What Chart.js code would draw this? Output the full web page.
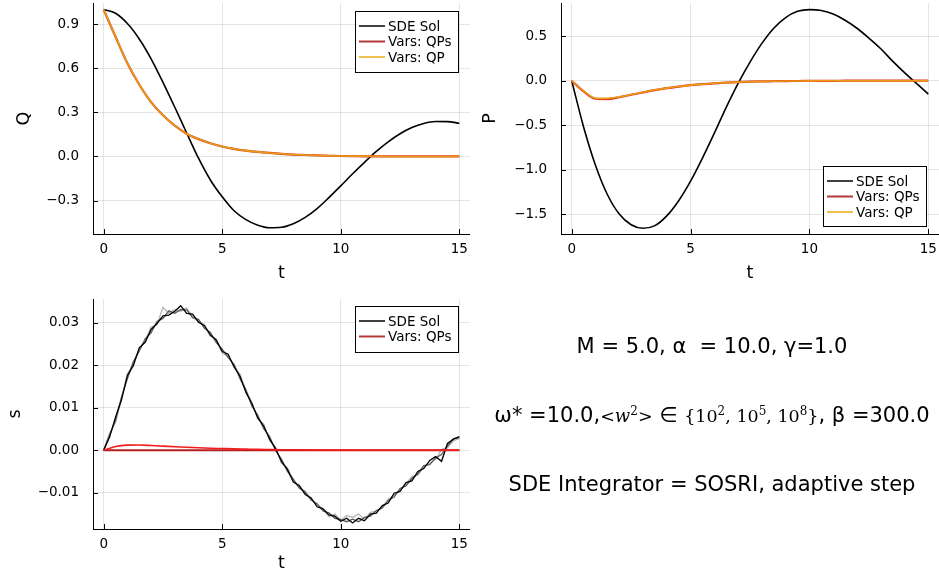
<!DOCTYPE html>
<html>
<head>
<meta charset="utf-8">
<script src="https://cdn.jsdelivr.net/npm/chart.js@4.4.1/dist/chart.umd.min.js"></script>
<style>
  body { margin: 0; background: #fff; width: 939px; height: 580px; overflow: hidden; position: relative; }
  canvas { position: absolute; }
  .note { position: absolute; left: 412px; width: 600px; text-align: center; font: 21px "DejaVu Sans"; line-height: 24px; color: #000; white-space: pre; }
  .m { font-family: "DejaVu Serif"; font-size: 17.5px; }
  .m i { font-size: 18px; }
  .m sup { font-size: 12px; vertical-align: 7px; }
</style>
</head>
<body>
<canvas id="cQ" width="470" height="290" style="left:0;top:0"></canvas>
<canvas id="cP" width="469" height="290" style="left:470px;top:0"></canvas>
<canvas id="cS" width="470" height="290" style="left:0;top:290px"></canvas>
<div class="note" style="top:334px">M = 5.0, α  = 10.0, γ=1.0</div>
<div class="note" style="top:399px">ω* =10.0,<span class="m">&lt;<i>w</i><sup>2</sup>&gt;</span> ∈ <span class="m">{10<sup>2</sup>, 10<sup>5</sup>, 10<sup>8</sup>}</span>, β =300.0</div>
<div class="note" style="top:472px">SDE Integrator = SOSRI, adaptive step</div>
<script>
// time grid and tick labels
const tHalf = [0, 0.5, 1, 1.5, 2, 2.5, 3, 3.5, 4, 4.5, 5, 5.5, 6, 6.5, 7, 7.5, 8, 8.5, 9, 9.5,
  10, 10.5, 11, 11.5, 12, 12.5, 13, 13.5, 14, 14.5, 15];
const tQuarter = [0, 0.25, 0.5, 0.75, 1, 1.25, 1.5, 1.75, 2, 2.25,
  2.5, 2.75, 3, 3.25, 3.5, 3.75, 4, 4.25, 4.5, 4.75,
  5, 5.25, 5.5, 5.75, 6, 6.25, 6.5, 6.75, 7, 7.25,
  7.5, 7.75, 8, 8.25, 8.5, 8.75, 9, 9.25, 9.5, 9.75,
  10, 10.25, 10.5, 10.75, 11, 11.25, 11.5, 11.75, 12, 12.25,
  12.5, 12.75, 13, 13.25, 13.5, 13.75, 14, 14.25, 14.5, 14.75,
  15];
const tTicks = [0, 5, 10, 15];
const qTicks = [-0.3, 0, 0.3, 0.6, 0.9];
const pTicks = [-1.5, -1.0, -0.5, 0, 0.5];
const sTicks = [-0.01, 0, 0.01, 0.02, 0.03];

// Q panel
const qSde = [1.0, 0.975, 0.905, 0.80, 0.665, 0.505, 0.335, 0.16, -0.012, -0.16,
  -0.275, -0.37, -0.43, -0.468, -0.485, -0.482, -0.458, -0.415, -0.355, -0.28,
  -0.20, -0.118, -0.04, 0.035, 0.10, 0.155, 0.197, 0.225, 0.238, 0.237,
  0.226];
const qVars = [1.0, 0.815, 0.635, 0.49, 0.37, 0.28, 0.21, 0.155, 0.118, 0.09,
  0.068, 0.052, 0.04, 0.031, 0.024, 0.018, 0.013, 0.01, 0.007, 0.005,
  0.003, 0.002, 0.001, 0.001, 0, 0, 0, 0, 0, 0,
  0];

// P panel
const pSde = [0, -0.52, -0.95, -1.28, -1.50, -1.62, -1.66, -1.63, -1.52, -1.35,
  -1.13, -0.87, -0.59, -0.30, -0.03, 0.21, 0.42, 0.59, 0.71, 0.78,
  0.80, 0.79, 0.75, 0.68, 0.59, 0.48, 0.36, 0.22, 0.09, -0.03,
  -0.15];
const pQPs = [0, -0.12, -0.203, -0.207, -0.186, -0.158, -0.132, -0.106, -0.084, -0.066,
  -0.05, -0.038, -0.029, -0.022, -0.016, -0.011, -0.008, -0.006, -0.004, -0.003,
  -0.002, -0.001, -0.001, 0, 0, 0, 0, 0, 0, 0,
  0];
const pQP = [0, -0.115, -0.197, -0.199, -0.182, -0.155, -0.13, -0.105, -0.083, -0.065,
  -0.05, -0.038, -0.029, -0.022, -0.016, -0.011, -0.008, -0.006, -0.004, -0.003,
  -0.002, -0.001, -0.001, 0, 0, 0, 0, 0, 0, 0,
  0];

// s panel: three SDE runs (one per <w^2>) and the variational curves
const sSde1 = [0, 0.0031, 0.0078, 0.0118, 0.0176, 0.0199, 0.0241, 0.0254, 0.0284, 0.0298,
  0.0316, 0.0318, 0.0327, 0.0340, 0.0322, 0.0320, 0.0301, 0.0293, 0.0271, 0.0259,
  0.0232, 0.0226, 0.0196, 0.0174, 0.0136, 0.0110, 0.0076, 0.0057, 0.0026, 0.0004,
  -0.0027, -0.0045, -0.0075, -0.0083, -0.0104, -0.0112, -0.0133, -0.0138, -0.0152, -0.0155,
  -0.0167, -0.0160, -0.0171, -0.0160, -0.0166, -0.0150, -0.0148, -0.0130, -0.0124, -0.0101,
  -0.0097, -0.0076, -0.0072, -0.0050, -0.0043, -0.0024, -0.0015, -0.0026, 0.0016, 0.0026,
  0.0032];
const sSde2 = [0, 0.0036, 0.0070, 0.0125, 0.0168, 0.0208, 0.0233, 0.0262, 0.0276, 0.0303,
  0.0310, 0.0328, 0.0322, 0.0331, 0.0330, 0.0312, 0.0308, 0.0287, 0.0277, 0.0253,
  0.0238, 0.0218, 0.0202, 0.0168, 0.0142, 0.0104, 0.0082, 0.0051, 0.0032, -0.0001,
  -0.0021, -0.0050, -0.0068, -0.0089, -0.0099, -0.0117, -0.0126, -0.0143, -0.0147, -0.0160,
  -0.0163, -0.0168, -0.0162, -0.0168, -0.0158, -0.0155, -0.0142, -0.0136, -0.0118, -0.0110,
  -0.0090, -0.0084, -0.0066, -0.0056, -0.0036, -0.0034, -0.0018, -0.0010, 0.0010, 0.0027,
  0.0030];
const sSde3 = [0, 0.0040, 0.0066, 0.0121, 0.0180, 0.0202, 0.0238, 0.0258, 0.0290, 0.0295,
  0.0336, 0.0322, 0.0331, 0.0326, 0.0335, 0.0314, 0.0303, 0.0296, 0.0268, 0.0262,
  0.0228, 0.0221, 0.0198, 0.0179, 0.0140, 0.0113, 0.0073, 0.0062, 0.0022, 0.0008,
  -0.0031, -0.0041, -0.0072, -0.0089, -0.0096, -0.0116, -0.0128, -0.0137, -0.0156, -0.0150,
  -0.0164, -0.0154, -0.0158, -0.0150, -0.0162, -0.0146, -0.0143, -0.0135, -0.0115, -0.0106,
  -0.0093, -0.0079, -0.0062, -0.0058, -0.0040, -0.0030, -0.0022, 0.0002, 0.0006, 0.0022,
  0.0028];
const sBump = [0, 0.0009, 0.0012, 0.00122, 0.00112, 0.00098, 0.00083, 0.0007, 0.00058, 0.00048,
  0.0004, 0.00032, 0.00026, 0.0002, 0.00016, 0.00012, 0.0001, 0.00008, 0.00006, 0.00004,
  0.00003, 0.00002, 0.00001, 0, 0, 0, 0, 0, 0, 0,
  0];
const sFlat = [0, 0, 0, 0, 0, 0, 0, 0, 0, 0, 0, 0, 0, 0, 0, 0, 0, 0, 0, 0,
  0, 0, 0, 0, 0, 0, 0, 0, 0, 0, 0];

Chart.defaults.font.family = '"DejaVu Sans", sans-serif';
Chart.defaults.color = '#000';

const red = '#b33a3a', gold = '#f0c050';

// legend in a box, inset from a corner of the plot area
const boxLegend = {
  id: 'boxLegend',
  afterDraw(chart, args, o) {
    const ctx = chart.ctx, a = chart.chartArea;
    const x = Math.round(a.right - o.right - o.w);
    const y = Math.round(o.bottom != null ? a.bottom - o.bottom - o.h : a.top + o.top);
    ctx.save();
    ctx.fillStyle = '#fff';
    ctx.fillRect(x, y, o.w, o.h);
    ctx.strokeStyle = '#000';
    ctx.lineWidth = 1;
    ctx.strokeRect(x + 0.5, y + 0.5, o.w, o.h);
    ctx.font = '13.5px "DejaVu Sans"';
    ctx.textBaseline = 'middle';
    o.items.forEach((it, i) => {
      const yy = y + 15 + i * 15.5;
      ctx.strokeStyle = it.color;
      ctx.lineWidth = it.lw;
      ctx.beginPath();
      ctx.moveTo(x + 4, yy);
      ctx.lineTo(x + 30, yy);
      ctx.stroke();
      ctx.fillStyle = '#000';
      ctx.fillText(it.label, x + 33, yy + 1);
    });
    ctx.restore();
  }
};

// short tick marks pointing into the plot
const inTicks = {
  id: 'inTicks',
  beforeDatasetsDraw(chart) {
    const ctx = chart.ctx, a = chart.chartArea;
    const sx = chart.scales.x, sy = chart.scales.y;
    ctx.save();
    ctx.strokeStyle = '#000';
    ctx.lineWidth = 1;
    ctx.beginPath();
    sx.ticks.forEach(t => {
      const px = Math.round(sx.getPixelForValue(t.value)) + 0.5;
      ctx.moveTo(px, a.bottom);
      ctx.lineTo(px, a.bottom - 5);
    });
    sy.ticks.forEach(t => {
      const py = Math.round(sy.getPixelForValue(t.value)) + 0.5;
      ctx.moveTo(a.left, py);
      ctx.lineTo(a.left + 5, py);
    });
    ctx.stroke();
    ctx.restore();
  }
};

function line(xs, ys, color, width, smooth) {
  return {
    data: xs.map((x, i) => ({ x: x, y: ys[i] })),
    borderColor: color,
    borderWidth: width,
    pointRadius: 0,
    fill: false,
    tension: 0,
    cubicInterpolationMode: smooth ? 'monotone' : 'default'
  };
}

function fmt(dec) {
  return v => (v < -1e-9 ? '\u2212' : '') + Math.abs(v).toFixed(dec);
}

// no extra room for tick labels hanging over the plot edges
function noPad(s) {
  s.paddingTop = 0;
  s.paddingBottom = 0;
  s.paddingLeft = 0;
  s.paddingRight = 0;
}

// first dataset in the list is drawn on top
function makeChart(id, sets, y, lay, legend) {
  return new Chart(document.getElementById(id), {
    type: 'line',
    data: { datasets: sets },
    plugins: [inTicks, boxLegend],
    options: {
      responsive: false,
      animation: false,
      layout: { autoPadding: false, padding: { top: lay.top, left: 0, right: 0, bottom: 0 } },
      plugins: { legend: { display: false }, tooltip: { enabled: false }, boxLegend: legend },
      scales: {
        x: {
          type: 'linear', min: -0.45, max: 15.45,
          afterBuildTicks: s => { s.ticks = tTicks.map(v => ({ value: v })); },
          afterFit: s => { s.height = lay.xh; noPad(s); },
          grid: { color: 'rgba(0,0,0,0.1)', drawTicks: false },
          border: { display: true, color: '#000', width: 1 },
          ticks: { padding: 7, font: { size: 13.5 }, autoSkip: false, maxRotation: 0, callback: v => String(v) },
          title: { display: true, text: 't', font: { size: 17.5 }, padding: { top: 0, bottom: lay.tb } }
        },
        y: {
          type: 'linear', min: y.min, max: y.max,
          afterBuildTicks: s => { s.ticks = y.ticks.map(v => ({ value: v })); },
          afterFit: s => { s.width = lay.yw; noPad(s); },
          grid: { color: 'rgba(0,0,0,0.1)', drawTicks: false },
          border: { display: true, color: '#000', width: 1 },
          ticks: { padding: 14, font: { size: 13.5 }, autoSkip: false, callback: fmt(y.dec) },
          title: { display: true, text: y.title, font: { size: 17.5 }, padding: { top: lay.yt, bottom: 0 } }
        }
      }
    }
  });
}

makeChart('cQ', [
  line(tHalf, qVars, '#eb9a16', 1.6, true),
  line(tHalf, qVars, '#d23a22', 2.2, true),
  line(tHalf, qSde, '#000', 1.6, true)
], { min: -0.528, max: 1.045, ticks: qTicks, dec: 1, title: 'Q' },
{ top: 3, xh: 56, yw: 93, tb: 6, yt: 13.5 },
{ right: 12, top: 8, w: 103, h: 61, items: [
  { label: 'SDE Sol', color: '#000', lw: 1.5 },
  { label: 'Vars: QPs', color: red, lw: 2 },
  { label: 'Vars: QP', color: gold, lw: 2 }] });

makeChart('cP', [
  line(tHalf, pQP, '#eb9a16', 1.6, true),
  line(tHalf, pQPs, '#e0301e', 2.2, true),
  line(tHalf, pSde, '#000', 1.6, true)
], { min: -1.724, max: 0.874, ticks: pTicks, dec: 1, title: 'P' },
{ top: 3, xh: 56, yw: 91, tb: 6, yt: 9.5 },
{ right: 13, bottom: 8, w: 103, h: 60, items: [
  { label: 'SDE Sol', color: '#000', lw: 1.5 },
  { label: 'Vars: QPs', color: red, lw: 2 },
  { label: 'Vars: QP', color: gold, lw: 2 }] });

makeChart('cS', [
  line(tHalf, sBump, '#f21c1c', 1.6, true),
  line(tHalf, sFlat, '#b41e1e', 1.8, true),
  line(tQuarter, sSde1, '#000', 1.3, false),
  line(tQuarter, sSde2, '#5a5a5a', 1.3, false),
  line(tQuarter, sSde3, '#b4b4b4', 1.3, false)
], { min: -0.01852, max: 0.03557, ticks: sTicks, dec: 2, title: 's' },
{ top: 9, xh: 51, yw: 93, tb: 6, yt: 4.5 },
{ right: 12, top: 7, w: 103, h: 46, items: [
  { label: 'SDE Sol', color: '#000', lw: 1.5 },
  { label: 'Vars: QPs', color: red, lw: 2 }] });
</script>
</body>
</html>
